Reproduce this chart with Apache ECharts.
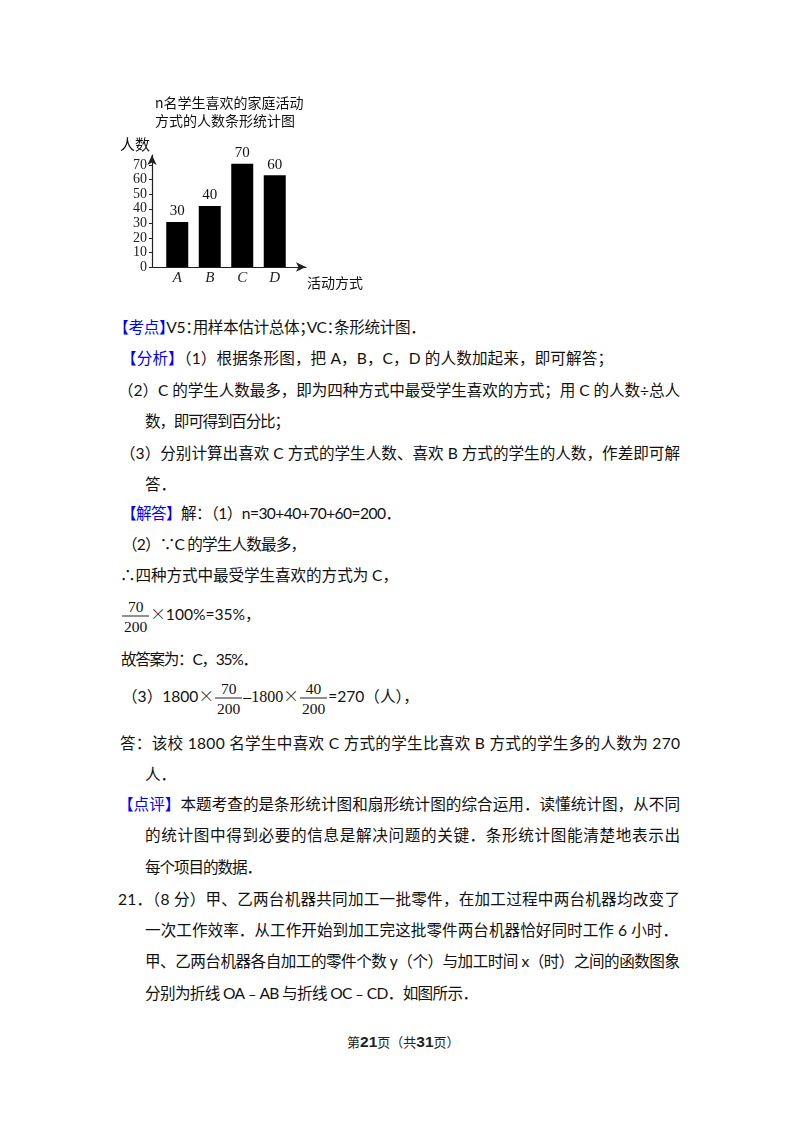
<!DOCTYPE html>
<html lang="zh">
<head>
<meta charset="UTF-8">
<title>n名学生喜欢的家庭活动方式的人数条形统计图</title>
<script src="https://cdn.jsdelivr.net/npm/echarts@6.0.0/dist/echarts.min.js"></script>
<style>
  html, body { margin: 0; padding: 0; background: #fff; }
  body { position: relative; width: 800px; height: 1132px; overflow: hidden; }
  #chart { position: absolute; left: 0; top: 0; width: 800px; height: 300px; }
  .ln {
    position: absolute; white-space: nowrap; transform: translateY(-50%);
    font-family: Lato, "Noto Sans CJK SC", sans-serif; font-size: 15.6px; color: #111;
  }
  .ln.halt { font-feature-settings: "halt"; }
  .h { color: #0000ff; }
  .cj { font-family: "Noto Sans CJK SC", sans-serif; font-weight: 300; }
  .sf { font-family: "Liberation Serif", serif; font-size: 16px; }
  .frac {
    display: inline-block; vertical-align: middle; text-align: center;
    font-family: "Liberation Serif", serif; font-size: 15.5px; margin: 0 1px;
  }
  .frac span { display: block; line-height: 19px; padding: 0 2px; }
  .frac .d { border-top: 1px solid #222; }
  .foot {
    position: absolute; left: 347px; top: 1041px; transform: translateY(-50%);
    font-family: "Noto Sans CJK SC", sans-serif; font-size: 13px; color: #222; white-space: nowrap;
  }
  .foot b { font-family: "Liberation Sans", sans-serif; font-size: 15.5px; }
</style>
</head>
<body>
<div id="chart"></div>
<script type="text/javascript">
// bar chart data
var categories = ['A', 'B', 'C', 'D'];
var barHeights = [31, 42, 71, 63];          // bar tops as drawn in the picture
var barLabels = ['30', '40', '70', '60'];   // numbers written above the bars
var yTicks = [0, 10, 20, 30, 40, 50, 60, 70];

var serif = '"Liberation Serif", "DejaVu Serif", serif';
var myChart = echarts.init(document.getElementById('chart'));
var option = {
    animation: false,
    textStyle: { fontFamily: '"Noto Sans CJK SC", sans-serif' },
    title: {
        text: 'n名学生喜欢的家庭活动\n方式的人数条形统计图',
        left: 155, top: 94, padding: 0,
        textStyle: { fontSize: 14, fontWeight: 'normal', color: '#111', lineHeight: 18 }
    },
    grid: [
        { left: 161, top: 155, width: 130, height: 112, outerBoundsMode: 'none' },
        { left: 152, top: 155, width: 154, height: 112, outerBoundsMode: 'none' }
    ],
    xAxis: [
        {
            gridIndex: 0, type: 'category', data: categories,
            axisLine: { show: false }, axisTick: { show: false },
            axisLabel: { margin: 4, fontFamily: serif, fontStyle: 'italic', fontSize: 15, color: '#222' }
        },
        {
            gridIndex: 1, type: 'value', min: 0, max: 1,
            axisLine: { show: true, symbol: ['none', 'arrow'], symbolSize: [7, 10], lineStyle: { color: '#222', width: 1.2 } },
            axisTick: { show: false }, axisLabel: { show: false }, splitLine: { show: false },
            name: '活动方式', nameLocation: 'end', nameGap: 0,
            nameTextStyle: { fontSize: 14, color: '#111', align: 'left', verticalAlign: 'top', padding: [9, 0, 0, 1] }
        }
    ],
    yAxis: [
        { gridIndex: 0, type: 'value', min: 0, max: 77, show: false },
        {
            gridIndex: 1, type: 'value', min: 0, max: 77,
            axisLine: { show: true, symbol: ['none', 'arrow'], symbolSize: [7, 10], lineStyle: { color: '#222', width: 1.2 } },
            axisTick: { show: true, length: 3, customValues: yTicks, lineStyle: { color: '#222' } },
            axisLabel: {
                customValues: yTicks, margin: 5, fontFamily: serif, fontSize: 14, lineHeight: 14,
                color: '#222', showMinLabel: true, showMaxLabel: true
            },
            splitLine: { show: false },
            name: '人数', nameLocation: 'end', nameGap: 0,
            nameTextStyle: { fontSize: 15, color: '#111', align: 'right', verticalAlign: 'bottom', padding: [0, 2, 3, 0] }
        }
    ],
    series: [
        {
            type: 'bar', xAxisIndex: 0, yAxisIndex: 0,
            data: barHeights, barWidth: 22,
            itemStyle: { color: '#000' },
            label: {
                show: true, position: 'top', distance: 3,
                fontFamily: serif, fontSize: 15, color: '#111',
                formatter: function (p) { return barLabels[p.dataIndex]; }
            }
        }
    ]
};
myChart.setOption(option);

// text of the page below the chart
function frac(a, b) {
    return '<span class="frac"><span class="n">' + a + '</span><span class="d">' + b + '</span></span>';
}
var X = '<span class="cj">×</span>';
// [centre y, left x, right end (or null), compress punctuation, html]
var lines = [
    [326, 121, 418, true, '<span class="h">【考点】</span>V5：用样本估计总体；VC：条形统计图．'],
    [357, 121, 613, false, '<span class="h">【分析】</span>（1）根据条形图，把 A，B，C，D 的人数加起来，即可解答；'],
    [389, 118, 680, false, '（2）C 的学生人数最多，即为四种方式中最受学生喜欢的方式；用 C 的人数÷总人'],
    [420, 145, 290, false, '数，即可得到百分比；'],
    [452, 120, 680, false, '（3）分别计算出喜欢 C 方式的学生人数、喜欢 B 方式的学生的人数，作差即可解'],
    [483, 145, null, false, '答．'],
    [512, 121, 401, false, '<span class="h">【解答】</span>解：（1）n=30+40+70+60=200．'],
    [543, 122, 306, false, '（2）∵C 的学生人数最多，'],
    [574, 120, 398, false, '∴四种方式中最受学生喜欢的方式为 C，'],
    [616, 121, null, false, frac('70', '200') + X + '100%=35%，'],
    [658, 121, 258, false, '故答案为：C，35%．'],
    [698, 122, null, false, '（3）1800' + X + frac('70', '200') + '<span class="sf">–1800</span>' + X + frac('40', '200') + '=270（人），'],
    [742, 120, 680, false, '答：该校 1800 名学生中喜欢 C 方式的学生比喜欢 B 方式的学生多的人数为 270'],
    [773, 145, null, false, '人．'],
    [803, 118, 680, false, '<span class="h">【点评】</span>本题考查的是条形统计图和扇形统计图的综合运用．读懂统计图，从不同'],
    [834, 145, 680, false, '的统计图中得到必要的信息是解决问题的关键．条形统计图能清楚地表示出'],
    [866, 145, 262, false, '每个项目的数据．'],
    [898, 118, 680, false, '21．（8 分）甲、乙两台机器共同加工一批零件，在加工过程中两台机器均改变了'],
    [929, 145, 678, false, '一次工作效率．从工作开始到加工完这批零件两台机器恰好同时工作 6 小时．'],
    [960, 145, 680, false, '甲、乙两台机器各自加工的零件个数 y（个）与加工时间 x（时）之间的函数图象'],
    [992, 145, 478, false, '分别为折线 OA﹣AB 与折线 OC﹣CD．如图所示．']
];
lines.forEach(function (l) {
    var d = document.createElement('div');
    d.className = 'ln' + (l[3] ? ' halt' : '');
    d.style.top = l[0] + 'px';
    d.style.left = l[1] + 'px';
    if (l[2]) d.setAttribute('data-r', l[2]);
    d.innerHTML = l[4];
    document.body.appendChild(d);
});
var foot = document.createElement('div');
foot.className = 'foot';
foot.innerHTML = '第<b>21</b>页（共<b>31</b>页）';
document.body.appendChild(foot);

// stretch or squeeze each line so it ends where it ends in the picture
function fitLines() {
    document.querySelectorAll('.ln[data-r]').forEach(function (el) {
        el.style.letterSpacing = '';
        var target = +el.getAttribute('data-r') - el.offsetLeft;
        var w = el.getBoundingClientRect().width;
        var n = el.textContent.length;
        if (n > 1) el.style.letterSpacing = ((target - w) / (n - 1)) + 'px';
    });
}
fitLines();
if (document.fonts && document.fonts.ready) document.fonts.ready.then(fitLines);
</script>
</body>
</html>
